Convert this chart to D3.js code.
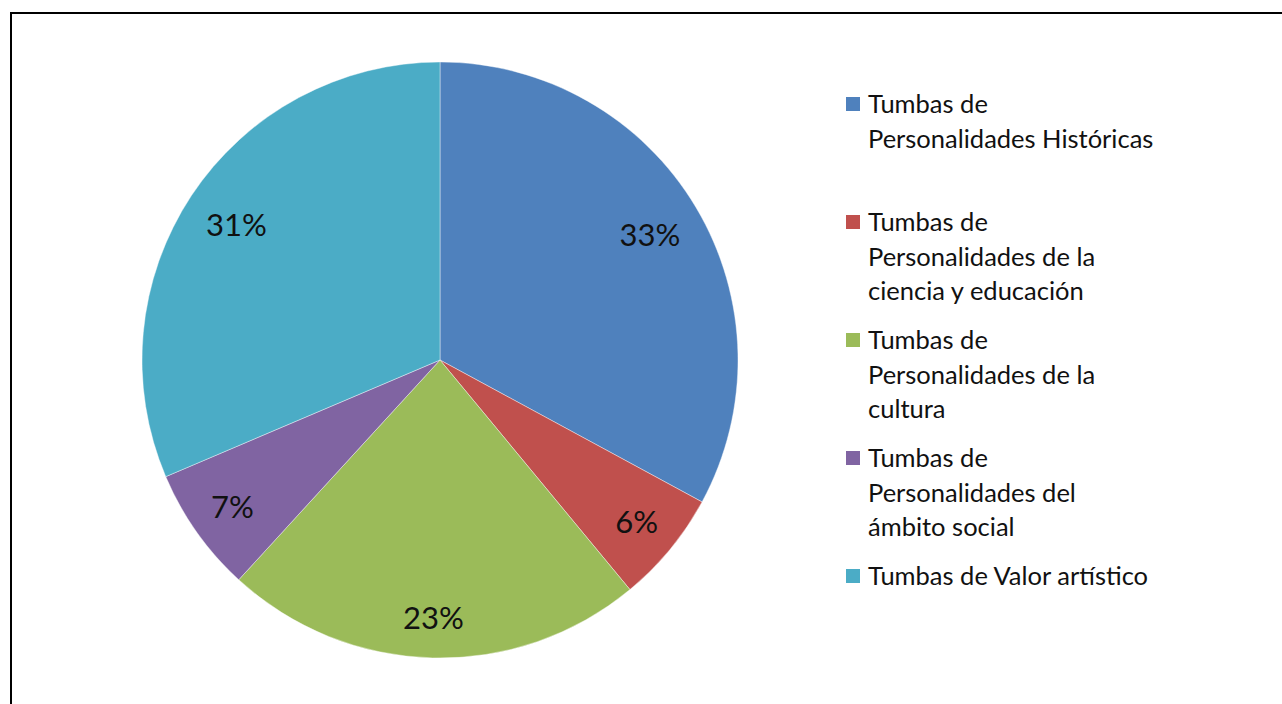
<!DOCTYPE html>
<html lang="es">
<head>
<meta charset="UTF-8">
<title>Tumbas</title>
<style>
  body { margin: 0; background: #fff; }
  svg { display: block; }
</style>
</head>
<body>
<svg width="1282" height="704"></svg>
<script src="https://cdnjs.cloudflare.com/ajax/libs/d3/7.8.5/d3.min.js"></script>
<script>
// data (share of total, %)
const categories = [
  "Tumbas de Personalidades Históricas",
  "Tumbas de Personalidades de la ciencia y educación",
  "Tumbas de Personalidades de la cultura",
  "Tumbas de Personalidades del ámbito social",
  "Tumbas de Valor artístico"
];
const legendLines = [
  ["Tumbas de", "Personalidades Históricas"],
  ["Tumbas de", "Personalidades de la", "ciencia y educación"],
  ["Tumbas de", "Personalidades de la", "cultura"],
  ["Tumbas de", "Personalidades del", "ámbito social"],
  ["Tumbas de Valor artístico"]
];
const values = [32.9, 6.1, 22.8, 6.8, 31.4];
const colors = ["#4f81bd", "#c0504d", "#9bbb59", "#8064a2", "#4bacc6"];

const svg = d3.select("svg");
const font = "Lato, 'Open Sans', sans-serif";

// frame
svg.append("rect")
  .attr("x", 11).attr("y", 13)
  .attr("width", 1400).attr("height", 900)
  .attr("fill", "none").attr("stroke", "#000").attr("stroke-width", 2);

const cx = 440, cy = 360, r = 298;

const pie = d3.pie().sort(null).value(d => d)(values);
const arc = d3.arc().innerRadius(0).outerRadius(r);

const g = svg.append("g").attr("transform", `translate(${cx},${cy})`);

g.selectAll("path")
  .data(pie)
  .join("path")
  .attr("d", arc)
  .attr("fill", (d, i) => colors[i])
  .attr("stroke", "#fff")
  .attr("stroke-opacity", 0.4)
  .attr("stroke-width", 1);

// labels sit a bit further out on the lower half, like the original
function labelPos(d) {
  const a = (d.startAngle + d.endAngle) / 2;
  const lr = 249 - 9 * Math.cos(a);
  return [lr * Math.sin(a), -lr * Math.cos(a)];
}

g.selectAll("text.lbl")
  .data(pie)
  .join("text")
  .attr("class", "lbl")
  .attr("transform", d => `translate(${labelPos(d)})`)
  .attr("text-anchor", "middle")
  .attr("dy", "0.35em")
  .attr("font-family", font)
  .attr("font-size", 31)
  .attr("fill", "#111")
  .text(d => Math.round(d.data) + "%");

// legend
const legend = svg.append("g").attr("transform", "translate(846,97)");
const rowStep = 118, lineStep = 34.5;

const item = legend.selectAll("g")
  .data(categories)
  .join("g")
  .attr("transform", (d, i) => `translate(0,${i * rowStep})`);

item.append("rect")
  .attr("width", 14).attr("height", 14)
  .attr("fill", (d, i) => colors[i]);

item.append("text")
  .attr("x", 22)
  .attr("y", 16)
  .attr("font-family", font)
  .attr("font-size", 25.5)
  .attr("fill", "#111")
  .selectAll("tspan")
  .data((d, i) => legendLines[i])
  .join("tspan")
  .attr("x", 22)
  .attr("dy", (d, j) => j === 0 ? 0 : lineStep)
  .text(d => d);
</script>
</body>
</html>
